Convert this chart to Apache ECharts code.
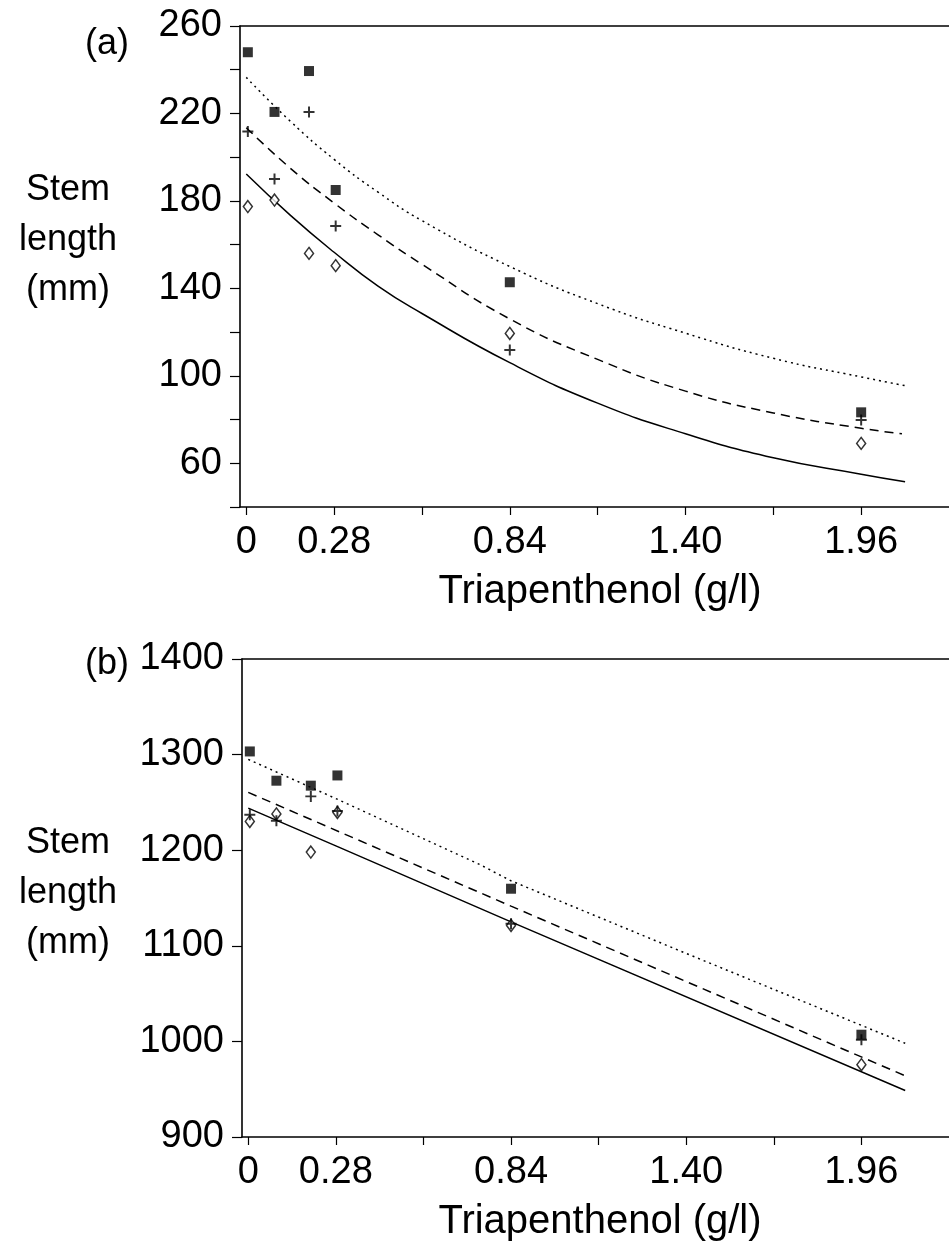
<!DOCTYPE html>
<html><head><meta charset="utf-8">
<script src="https://cdn.jsdelivr.net/npm/echarts@6/dist/echarts.min.js"></script>
<style>html,body{margin:0;padding:0;background:#fff}#c{width:949px;height:1244px}</style>
</head><body><div id="c"></div>
<script>
// ---- shared axis info ----
const xTickValues = [0, 0.28, 0.56, 0.84, 1.12, 1.40, 1.68, 1.96];
const xLabelValues = [0, 0.28, 0.84, 1.40, 1.96];
const xLabelTexts = ['0', '0.28', '0.84', '1.40', '1.96'];
const xTitle = 'Triapenthenol (g/l)';
const yTitleLines = ['Stem', 'length', '(mm)'];

// ---- panel (a) ----
const aSquares  = [[0.005, 248], [0.09, 220.7], [0.2, 239.4], [0.285, 185], [0.84, 142.8], [1.96, 83.3]];
const aPlus     = [[0.005, 211.7], [0.09, 190], [0.2, 220.7], [0.285, 168.5], [0.84, 111.8], [1.96, 79.8]];
const aDiamonds = [[0.005, 177.4], [0.09, 180.4], [0.2, 156], [0.285, 150.4], [0.84, 119.4], [1.96, 69.1]];
const aDotted = [[0, 236.5], [0.14, 216.5], [0.28, 199], [0.42, 184], [0.56, 171], [0.84, 150], [1.12, 133], [1.40, 119.5], [1.68, 108], [1.96, 99.5], [2.10, 95.5]];
const aDashed = [[0, 213.5], [0.14, 195], [0.28, 179], [0.42, 164.5], [0.56, 151], [0.84, 126], [1.12, 107.5], [1.40, 93], [1.68, 83], [1.96, 76], [2.09, 73.5]];
const aSolid  = [[0, 192.3], [0.14, 173.5], [0.28, 156.5], [0.42, 141], [0.56, 128.5], [0.84, 106], [1.12, 87.5], [1.40, 73.5], [1.68, 62.5], [1.96, 55], [2.10, 51.5]];
const aYTicks = { min: 40, max: 260, step: 20 };

// ---- panel (b) ----
const bSquares  = [[0.005, 1303.3], [0.09, 1272.7], [0.2, 1267.5], [0.285, 1278.2], [0.84, 1159.7], [1.96, 1007]];
const bPlus     = [[0.005, 1237.1], [0.09, 1230.9], [0.2, 1256.3], [0.285, 1241], [0.84, 1123], [1.96, 1001.8]];
const bDiamonds = [[0.005, 1230.1], [0.09, 1237.9], [0.2, 1198.1], [0.285, 1239.5], [0.84, 1121.3], [1.96, 975.6]];
const bDotted = [[0, 1295], [0.28, 1254], [0.74, 1185], [0.84, 1168], [1.40, 1092], [2.10, 998]];
const bDashed = [[0, 1260.5], [0.84, 1141.5], [2.10, 964]];
const bSolid  = [[0, 1244], [0.28, 1204.5], [0.84, 1125], [2.10, 948.7]];
const bYTicks = { min: 900, max: 1400, step: 100 };

const FONT = '"Liberation Sans", Arial, Helvetica, sans-serif';
const BLACK = '#000';
const plusPath = 'path://M4.1,0 H5.9 V4.1 H10 V5.9 H5.9 V10 H4.1 V5.9 H0 V4.1 H4.1 Z';

function xAxes(gridIndex) {
  const common = { type: 'value', gridIndex, min: -0.02, max: 2.24, splitLine: { show: false } };
  return [
    Object.assign({}, common, {
      position: 'bottom',
      axisLine: { show: true, onZero: false, lineStyle: { color: BLACK, width: 1.6 } },
      axisTick: { show: true, length: 8, customValues: xTickValues, lineStyle: { color: BLACK, width: 1.2 } },
      axisLabel: {
        show: true, customValues: xLabelValues, margin: 17,
        fontFamily: FONT, fontSize: 38, color: BLACK,
        formatter: v => { const i = xLabelValues.findIndex(x => Math.abs(x - v) < 1e-6); return i >= 0 ? xLabelTexts[i] : ''; }
      }
    }),
    Object.assign({}, common, {
      position: 'top',
      axisLine: { show: true, onZero: false, lineStyle: { color: BLACK, width: 1.6 } },
      axisTick: { show: false }, axisLabel: { show: false }
    })
  ];
}

function yAxis(gridIndex, t, labelFilter) {
  return {
    type: 'value', gridIndex, min: t.min, max: t.max, interval: t.step,
    splitLine: { show: false },
    axisLine: { show: true, onZero: false, lineStyle: { color: BLACK, width: 1.6 } },
    axisTick: { show: true, length: 10, lineStyle: { color: BLACK, width: 1.2 } },
    axisLabel: { margin: 18, padding: [5, 0, 0, 0], fontFamily: FONT, fontSize: 38, color: BLACK, formatter: v => labelFilter(v) ? String(v) : '' }
  };
}

function panelSeries(xi, yi, sq, pl, di, dotted, dashed, solid, smooth) {
  const line = (data, type) => ({
    type: 'line', xAxisIndex: xi, yAxisIndex: yi, data, smooth, showSymbol: false, symbol: 'none',
    lineStyle: { color: BLACK, width: 1.5, type }, z: 2, silent: true
  });
  return [
    line(solid, 'solid'),
    line(dashed, [9, 6]),
    line(dotted, [2, 4]),
    { type: 'scatter', xAxisIndex: xi, yAxisIndex: yi, data: di, symbol: 'diamond', symbolSize: [9, 12],
      itemStyle: { color: '#fff', borderColor: BLACK, borderWidth: 1.5 }, z: 5 },
    { type: 'scatter', xAxisIndex: xi, yAxisIndex: yi, data: pl, symbol: plusPath, symbolSize: 11,
      itemStyle: { color: BLACK }, z: 6 },
    { type: 'scatter', xAxisIndex: xi, yAxisIndex: yi, data: sq, symbol: 'rect', symbolSize: 10,
      itemStyle: { color: BLACK }, z: 7 }
  ];
}

const graphics = [];
function panelTexts(labelY, stemY, titleY, tag) {
  graphics.push({ type: 'text', x: 107, y: labelY, style: { text: tag, font: '36px ' + FONT, fill: BLACK, align: 'center', verticalAlign: 'middle' } });
  yTitleLines.forEach((s, i) => graphics.push({ type: 'text', x: 68, y: stemY + i * 50, style: { text: s, font: '36px ' + FONT, fill: BLACK, align: 'center', verticalAlign: 'middle' } }));
  graphics.push({ type: 'text', x: 600, y: titleY, style: { text: xTitle, font: '40px ' + FONT, fill: BLACK, align: 'center', verticalAlign: 'middle' } });
}
panelTexts(44, 190, 592, '(a)');
panelTexts(664, 843, 1222, '(b)');

const chart = echarts.init(document.getElementById('c'), null, { renderer: 'canvas' });
chart.setOption({
  animation: false,
  backgroundColor: '#fff',
  grid: [
    { left: 240, top: 26, width: 709, height: 481 },
    { left: 242, top: 659, width: 711, height: 478 }
  ],
  xAxis: [...xAxes(0), ...xAxes(1)],
  yAxis: [
    yAxis(0, aYTicks, v => v % 40 === 20),
    yAxis(1, bYTicks, v => true)
  ],
  series: [
    ...panelSeries(0, 0, aSquares, aPlus, aDiamonds, aDotted, aDashed, aSolid, true),
    ...panelSeries(2, 1, bSquares, bPlus, bDiamonds, bDotted, bDashed, bSolid, false)
  ],
  graphic: graphics
});
</script></body></html>
